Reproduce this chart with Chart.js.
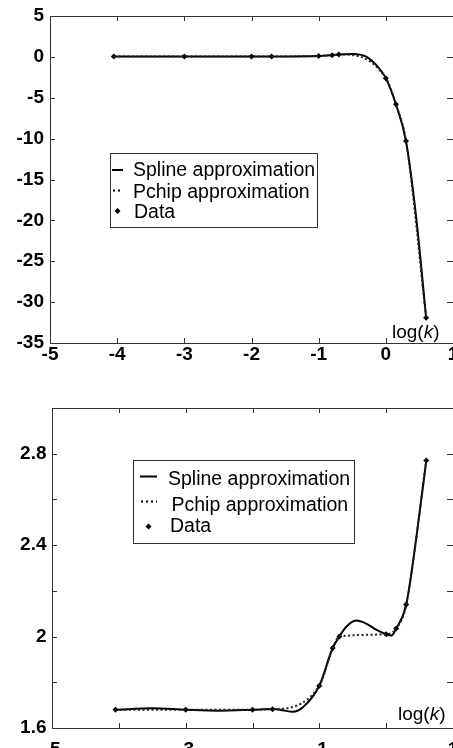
<!DOCTYPE html>
<html>
<head>
<meta charset="utf-8">
<script src="https://cdn.jsdelivr.net/npm/chart.js@4.4.1/dist/chart.umd.min.js"></script>
<style>
  html, body { margin: 0; padding: 0; background: #fff; }
  body { width: 453px; height: 748px; position: relative; overflow: hidden; }
  canvas { position: absolute; left: 0; }
  #top-chart { top: 0; }
  #bottom-chart { top: 375px; }
</style>
</head>
<body>
<canvas id="top-chart" width="453" height="375"></canvas>
<canvas id="bottom-chart" width="453" height="373"></canvas>
<script>
// Data points, log(k) shared by both panels
const logK = [-4.05, -3, -2, -1.7, -1, -0.8, -0.7, 0, 0.15, 0.3, 0.6];
const topData = [0.05, 0.05, 0.05, 0.05, 0.1, 0.2, 0.3, -2.6, -5.8, -10.3, -31.9];
const bottomData = [1.68, 1.68, 1.68, 1.682, 1.785, 1.95, 2.0, 2.01, 2.035, 2.14, 2.77];

// Spline curves
const topSplineK = [-4.05, -3, -2, -1.7, -1, -0.7, -0.5, -0.3, -0.1, 0, 0.15, 0.3, 0.45, 0.6];
const topSpline = [0.05, 0.05, 0.05, 0.05, 0.1, 0.3, 0.35, 0.05, -1.4, -2.6, -5.8, -10.3, -19.5, -31.9];
const bottomSplineK = [-4.05, -3.5, -3, -2.5, -2, -1.7, -1.55, -1.4, -1.25, -1, -0.8, -0.7, -0.6, -0.45, -0.3, -0.15, 0, 0.08, 0.15, 0.3, 0.45, 0.6];
const bottomSpline = [1.68, 1.686, 1.68, 1.676, 1.68, 1.683, 1.678, 1.671, 1.69, 1.785, 1.95, 2.0, 2.042, 2.07, 2.057, 2.03, 2.01, 2.005, 2.035, 2.14, 2.43, 2.77];

// Tick labels
const topXLabels = [-5, -4, -3, -2, -1, 0, 1];
const topYLabels = [-35, -30, -25, -20, -15, -10, -5, 0, 5];
const bottomXLabels = [-5, -3, -1, 1];
const bottomYLabels = [1.6, 2, 2.4, 2.8];

const legendLabels = ['Spline approximation', 'Pchip approximation', 'Data'];

const FONT = "'Liberation Sans', Arial, sans-serif";
const tickFont = { family: FONT, size: 19, weight: 'bold' };

const toPoints = (xs, ys) => xs.map((x, i) => ({ x: x, y: ys[i] }));

const labelIf = (list) => (value) => {
  const v = Math.round(value * 10) / 10;
  return list.includes(v) ? String(v) : '';
};

// box round the plot with inward ticks on all four sides
const frameTicks = {
  id: 'frameTicks',
  beforeDatasetsDraw(chart) {
    const { ctx, chartArea: a, scales: { x, y } } = chart;
    ctx.save();
    ctx.strokeStyle = '#333';
    ctx.lineWidth = 1;
    ctx.beginPath();
    ctx.rect(Math.round(a.left) + 0.5, Math.round(a.top) + 0.5, Math.round(a.right - a.left), Math.round(a.bottom - a.top));
    for (const t of x.ticks) {
      const px = Math.round(x.getPixelForValue(t.value)) + 0.5;
      ctx.moveTo(px, a.bottom); ctx.lineTo(px, a.bottom - 5);
      ctx.moveTo(px, a.top); ctx.lineTo(px, a.top + 5);
    }
    for (const t of y.ticks) {
      const py = Math.round(y.getPixelForValue(t.value)) + 0.5;
      ctx.moveTo(a.left, py); ctx.lineTo(a.left + 5, py);
      ctx.moveTo(a.right, py); ctx.lineTo(a.right - 6, py);
    }
    ctx.stroke();
    ctx.restore();
  }
};

// legend box and the log(k) label
const boxLegend = {
  id: 'boxLegend',
  afterDraw(chart, args, o) {
    const ctx = chart.ctx;
    ctx.save();
    ctx.strokeStyle = '#333';
    ctx.lineWidth = 1;
    ctx.fillStyle = '#fff';
    const [bx0, by0, bx1, by1] = o.box;
    ctx.fillRect(bx0, by0, bx1 - bx0, by1 - by0);
    ctx.strokeRect(bx0 + 0.5, by0 + 0.5, bx1 - bx0, by1 - by0);

    ctx.fillStyle = '#000';
    ctx.strokeStyle = '#000';
    ctx.font = '19.5px ' + FONT;
    ctx.textBaseline = 'alphabetic';
    o.rows.forEach((r, i) => {
      ctx.fillText(legendLabels[i], r.textX, r.baseline);
    });

    const [sx0, sx1] = o.sample;
    // solid line
    ctx.lineWidth = 2;
    ctx.beginPath();
    ctx.moveTo(sx0, o.rows[0].symY);
    ctx.lineTo(sx1, o.rows[0].symY);
    ctx.stroke();
    // dotted line
    ctx.setLineDash([2, 3]);
    ctx.beginPath();
    ctx.moveTo(sx0 + 1, o.rows[1].symY);
    ctx.lineTo(sx1, o.rows[1].symY);
    ctx.stroke();
    ctx.setLineDash([]);
    // marker
    const mx = (sx0 + sx1) / 2, my = o.rows[2].symY;
    ctx.beginPath();
    ctx.moveTo(mx, my - 3); ctx.lineTo(mx + 3, my); ctx.lineTo(mx, my + 3); ctx.lineTo(mx - 3, my);
    ctx.closePath();
    ctx.fill();

    // axis label log(k)
    const [lx, ly] = o.axisLabel;
    ctx.font = '19px ' + FONT;
    ctx.fillText('log(', lx, ly);
    let w = ctx.measureText('log(').width;
    ctx.font = 'italic 19px ' + FONT;
    ctx.fillText('k', lx + w, ly);
    w += ctx.measureText('k').width;
    ctx.font = '19px ' + FONT;
    ctx.fillText(')', lx + w, ly);
    ctx.restore();
  }
};

function makeChart(canvas, opts) {
  return new Chart(canvas.getContext('2d'), {
    type: 'line',
    data: {
      datasets: [
        {
          label: 'Pchip approximation',
          data: toPoints(logK, opts.data),
          borderColor: '#222',
          borderWidth: 2,
          borderDash: [2, 2.5],
          cubicInterpolationMode: 'monotone',
          pointRadius: 0
        },
        {
          label: 'Spline approximation',
          data: toPoints(opts.splineK, opts.spline),
          borderColor: '#000',
          borderWidth: 2,
          cubicInterpolationMode: 'monotone',
          pointRadius: 0
        },
        {
          label: 'Data',
          data: toPoints(logK, opts.data),
          showLine: false,
          pointStyle: 'rectRot',
          pointRadius: 3,
          pointBackgroundColor: '#000',
          pointBorderWidth: 0
        }
      ]
    },
    options: {
      responsive: false,
      animation: false,
      layout: { padding: opts.padding, autoPadding: false },
      plugins: {
        legend: { display: false },
        tooltip: { enabled: false },
        boxLegend: opts.legend
      },
      scales: {
        x: {
          type: 'linear',
          min: -5,
          max: 1,
          grid: { display: false, drawTicks: false },
          border: { display: false },
          ticks: {
            stepSize: 1,
            autoSkip: false,
            maxRotation: 0,
            padding: opts.xPad,
            color: '#000',
            font: tickFont,
            callback: labelIf(opts.xLabels)
          },
          afterFit: (s) => {
            s.height = opts.xHeight;
            s.paddingLeft = 0;
            s.paddingRight = 0;
          }
        },
        y: {
          min: opts.yMin,
          max: opts.yMax,
          grid: { display: false, drawTicks: false },
          border: { display: false },
          ticks: {
            stepSize: opts.yStep,
            autoSkip: false,
            padding: opts.yPad,
            color: '#000',
            font: tickFont,
            callback: labelIf(opts.yLabels)
          },
          afterFit: (s) => {
            s.width = opts.yWidth;
            s.paddingTop = 0;
            s.paddingBottom = 0;
          }
        }
      }
    },
    plugins: [frameTicks, boxLegend]
  });
}

// Top panel
makeChart(document.getElementById('top-chart'), {
  data: topData,
  splineK: topSplineK,
  spline: topSpline,
  xLabels: topXLabels,
  yLabels: topYLabels,
  yMin: -35, yMax: 5, yStep: 5,
  padding: { left: 0, top: 16, right: -1, bottom: 0 },
  xHeight: 32, yWidth: 50, xPad: 0, yPad: 6,
  legend: {
    box: [110, 153, 317, 227],
    sample: [112, 123],
    rows: [
      { symY: 170, textX: 133, baseline: 176 },
      { symY: 190.5, textX: 133, baseline: 198 },
      { symY: 211, textX: 134, baseline: 218 }
    ],
    axisLabel: [392, 338]
  }
});

// Bottom panel
makeChart(document.getElementById('bottom-chart'), {
  data: bottomData,
  splineK: bottomSplineK,
  spline: bottomSpline,
  xLabels: bottomXLabels,
  yLabels: bottomYLabels,
  yMin: 1.6, yMax: 3.0, yStep: 0.2,
  padding: { left: 0, top: 33, right: -2, bottom: 0 },
  xHeight: 20, yWidth: 52, xPad: 10.5, yPad: 5.5,
  legend: {
    box: [133, 85, 354, 168],
    sample: [140, 157],
    rows: [
      { symY: 101.5, textX: 168, baseline: 110 },
      { symY: 126.5, textX: 171.5, baseline: 135.5 },
      { symY: 151.5, textX: 170, baseline: 156.5 }
    ],
    axisLabel: [398, 345]
  }
});
</script>
</body>
</html>
